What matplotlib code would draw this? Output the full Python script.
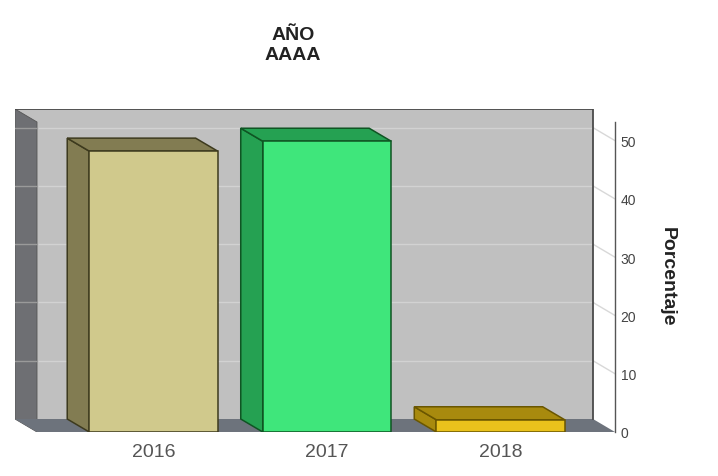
import matplotlib
matplotlib.use("Agg")
import matplotlib.pyplot as plt
from matplotlib.patches import Polygon

# ---- data ----
categories = ["2016", "2017", "2018"]
values = [48.2, 49.9, 2.1]
yticks = [0, 10, 20, 30, 40, 50]
title_lines = ["AÑO", "AAAA"]
ylabel = "Porcentaje"

front_colors = ["#d0c98c", "#3fe67b", "#e9c21c"]
side_colors = ["#827c52", "#25a152", "#a88a0e"]
edge_colors = ["#3d3a1e", "#0f5523", "#6a5600"]

# ---- layout (pseudo-3D geometry) ----
W, H = 718, 477
fig = plt.figure(figsize=(W / 100, H / 100), dpi=100)
plt.rcParams['font.family'] = ['Liberation Sans', 'DejaVu Sans']

x0, x1 = -0.671, 2.660       # front plane x extent
ymax = 53.2                  # front plane top
dx, dy = -0.1268, 2.23       # depth offset (back = up-left)
bw = 0.74                    # bar width

ax = fig.add_axes([15 / W, (H - 433) / H, 600 / W, 323 / H])
ax.set_xlim(x0 + dx, x1)
ax.set_ylim(0, ymax + dy)
ax.patch.set_alpha(0)

wall_c = "#c0c0c0"
dark_c = "#6e6f73"
floor_c = "#6d737c"

# back wall
ax.add_patch(Polygon([(x0 + dx, dy), (x1 + dx, dy), (x1 + dx, ymax + dy), (x0 + dx, ymax + dy)],
                     closed=True, facecolor=wall_c, edgecolor="none", zorder=1))
# gridlines on back wall + connectors to the front axis
for t in yticks[1:]:
    ax.plot([x0 + dx, x1 + dx], [t + dy, t + dy], color="#d2d2d2", lw=1.0, zorder=2)
    ax.plot([x1 + dx, x1], [t + dy, t], color="#d8d8d8", lw=1.0, zorder=2)
# left wall
ax.add_patch(Polygon([(x0, 0), (x0, ymax), (x0 + dx, ymax + dy), (x0 + dx, dy)],
                     closed=True, facecolor=dark_c, edgecolor="#555555", lw=0.6, zorder=2))
for t in yticks[1:]:
    ax.plot([x0 + dx, x0], [t + dy, t + dy], color="#9a9a9a", lw=1.0, zorder=2.1)
# floor
ax.add_patch(Polygon([(x0, 0), (x1, 0), (x1 + dx, dy), (x0 + dx, dy)],
                     closed=True, facecolor=floor_c, edgecolor="none", zorder=2))
# back wall border (top and right)
ax.plot([x0 + dx, x1 + dx, x1 + dx], [ymax + dy, ymax + dy, dy],
        color="#4a4a4a", lw=1.3, zorder=2.2, solid_joinstyle="miter")

# bars
xs = list(range(len(categories)))
for i, v in enumerate(values):
    l, r = xs[i] - bw / 2, xs[i] + bw / 2
    ax.add_patch(Polygon([(l, 0), (l, v), (l + dx, v + dy), (l + dx, dy)], closed=True,
                         facecolor=side_colors[i], edgecolor=edge_colors[i], lw=1.1, zorder=3))
    ax.add_patch(Polygon([(l, v), (r, v), (r + dx, v + dy), (l + dx, v + dy)], closed=True,
                         facecolor=side_colors[i], edgecolor=edge_colors[i], lw=1.1, zorder=3))
ax.bar(xs, values, width=bw, color=front_colors, edgecolor=edge_colors, linewidth=1.1, zorder=4)

# axes styling
for s in ["top", "left", "bottom"]:
    ax.spines[s].set_visible(False)
ax.spines["right"].set_bounds(0, ymax)
ax.spines["right"].set_color("#555555")
ax.spines["right"].set_linewidth(1.0)
ax.yaxis.tick_right()
ax.set_yticks(yticks)
ax.set_yticklabels([str(t) for t in yticks])
ax.tick_params(axis="y", length=0, pad=4, labelsize=10, labelcolor="#444444")
ax.set_xticks(xs)
ax.set_xticklabels(categories)
ax.tick_params(axis="x", length=0, pad=8, labelsize=14, labelcolor="#555555")

# title and y label
fig.text(293 / W, 1 - 36 / H, title_lines[0], ha="center", va="center",
         fontsize=14, fontweight="bold", color="#222222")
fig.text(293 / W, 1 - 56 / H, title_lines[1], ha="center", va="center",
         fontsize=14, fontweight="bold", color="#222222")
fig.text(667 / W, 1 - 277 / H, ylabel, ha="center", va="center", rotation=270,
         fontsize=14, fontweight="bold", color="#222222")

fig.savefig("out.png", dpi=100)
